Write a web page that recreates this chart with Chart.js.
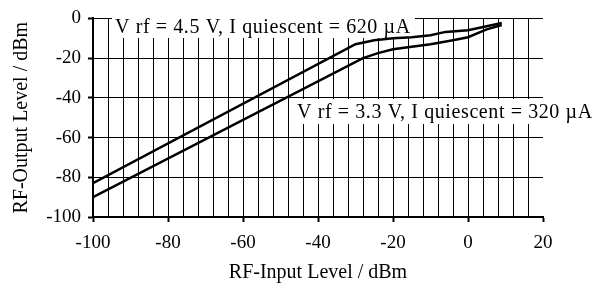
<!DOCTYPE html>
<html>
<head>
<meta charset="utf-8">
<script src="https://cdn.jsdelivr.net/npm/chart.js@4"></script>
<style>
  html, body { margin: 0; padding: 0; background: #fff; }
  #wrap { width: 608px; height: 288px; }
</style>
</head>
<body>
<div id="wrap"><canvas id="chart"></canvas></div>
<script>
const seriesNames = ["V rf = 4.5 V, I quiescent = 620 \u00b5A", "V rf = 3.3 V, I quiescent = 320 \u00b5A"];
const input45 = [-100, -30, -25, -20, -15, -10, -6, 0, 5, 9];
const output45 = [-83, -13, -11, -10, -9.5, -8.5, -6.8, -6, -4, -2.3];
const input33 = [-100, -28, -24, -20, -10, -4, 0, 5, 9];
const output33 = [-90, -20, -17.5, -15.5, -13, -11, -9.5, -5.5, -3.3];
const xTitle = "RF-Input Level / dBm";
const yTitle = "RF-Output Level / dBm";

const serif = "'Liberation Serif', 'Times New Roman', serif";

function points(xs, ys) {
  return xs.map((x, i) => ({ x: x, y: ys[i] }));
}

// white boxes with the series captions, drawn over the grid but under the lines
const captions = {
  id: "captions",
  beforeDatasetsDraw(chart) {
    const ctx = chart.ctx;
    ctx.save();
    ctx.fillStyle = "#fff";
    ctx.fillRect(112, 0, 303, 38);
    ctx.fillRect(291, 99, 317, 25);
    ctx.fillStyle = "#000";
    ctx.font = "20px " + serif;
    ctx.letterSpacing = "0.6px";
    ctx.textBaseline = "alphabetic";
    ctx.fillText(seriesNames[0], 115, 33);
    ctx.fillText(seriesNames[1], 297, 118);
    ctx.restore();
  }
};

new Chart(document.getElementById("chart"), {
  type: "line",
  data: {
    datasets: [
      { label: seriesNames[0], data: points(input45, output45) },
      { label: seriesNames[1], data: points(input33, output33) }
    ]
  },
  options: {
    responsive: true,
    maintainAspectRatio: false,
    animation: false,
    layout: { padding: { top: 17, right: 65, left: 0, bottom: 0 } },
    elements: {
      line: { borderColor: "#000", borderWidth: 2.5, tension: 0 },
      point: { radius: 0 }
    },
    plugins: {
      legend: { display: false },
      tooltip: { enabled: false }
    },
    scales: {
      x: {
        type: "linear",
        min: -100,
        max: 20,
        afterFit: (s) => { s.height = 71; },
        border: { color: "#000", width: 2 },
        grid: {
          color: (c) => (c.tick && c.tick.value === 20 ? "rgba(0,0,0,0)" : "#000"),
          lineWidth: 1,
          tickLength: 5,
          tickColor: (c) => (c.tick && c.tick.value % 20 === 0 ? "#000" : "rgba(0,0,0,0)"),
          tickWidth: 2
        },
        ticks: {
          stepSize: 4,
          autoSkip: false,
          maxRotation: 0,
          padding: 10,
          color: "#000",
          font: { family: serif, size: 19 },
          callback: (v) => (v % 20 === 0 ? String(v) : "")
        },
        title: {
          display: true,
          text: xTitle,
          color: "#000",
          font: { family: serif, size: 20 },
          padding: { top: 0, bottom: 3 }
        }
      },
      y: {
        min: -100,
        max: 0,
        afterFit: (s) => { s.width = 93; },
        border: { color: "#000", width: 2 },
        grid: {
          color: "#000",
          lineWidth: 1,
          tickLength: 5,
          tickColor: "#000",
          tickWidth: 2
        },
        ticks: {
          stepSize: 20,
          padding: 7,
          color: "#000",
          font: { family: serif, size: 19 }
        },
        title: {
          display: true,
          text: yTitle,
          color: "#000",
          font: { family: serif, size: 20 },
          padding: { top: 10, bottom: 0 }
        }
      }
    }
  },
  plugins: [captions]
});
</script>
</body>
</html>
